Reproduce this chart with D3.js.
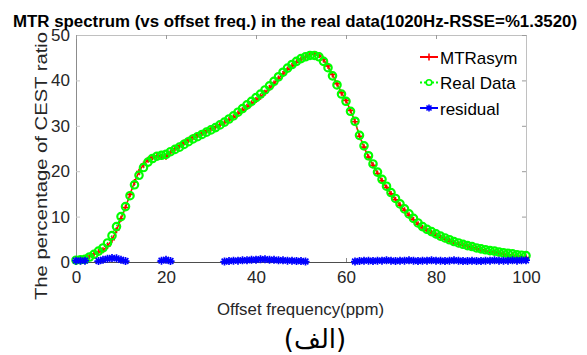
<!DOCTYPE html>
<html lang="en">
  <head>
    <meta charset="UTF-8">
    <title>MTR spectrum</title>
    <script src="https://d3js.org/d3.v7.min.js"></script>
    <style>
      * {
        margin: 0;
        padding: 0;
      }
      body {
        background: #fff;
      }
      body > svg {
        display: block;
      }
      text {
        font-family: "Liberation Sans", Arial, sans-serif;
      }
    </style>
  </head>
  <body>
    <script>
      // offset frequency (ppm)
      var offsets = [
        0, 1, 2, 3, 4, 5, 6, 7, 8, 9, 10, 11, 12, 13, 14, 15, 16, 17, 18, 19,
        20, 21, 22, 23, 24, 25, 26, 27, 28, 29, 30, 31, 32, 33, 34, 35, 36, 37, 38, 39,
        40, 41, 42, 43, 44, 45, 46, 47, 48, 49, 50, 51, 52, 53, 54, 55, 56, 57, 58, 59,
        60, 61, 62, 63, 64, 65, 66, 67, 68, 69, 70, 71, 72, 73, 74, 75, 76, 77, 78, 79,
        80, 81, 82, 83, 84, 85, 86, 87, 88, 89, 90, 91, 92, 93, 94, 95, 96, 97, 98, 99, 100
      ];

      var realData = [
        0.4, 0.5, 0.6, 1.1, 1.7, 2.4, 3.1, 4.2, 5.8, 7.8,
        10.0, 12.2, 14.6, 17.0, 19.1, 20.8, 22.0, 22.8, 23.3, 23.5,
        23.7, 24.3, 24.8, 25.3, 25.9, 26.5, 27.1, 27.6, 28.1, 28.6,
        29.1, 29.6, 30.2, 30.8, 31.5, 32.2, 33.0, 33.8, 34.6, 35.4,
        36.2, 37.0, 37.9, 38.8, 39.8, 40.8, 41.8, 42.7, 43.5, 44.2,
        44.8, 45.2, 45.5, 45.5, 45.2, 44.2, 42.8, 41.0, 39.0, 37.0,
        35.4, 33.2, 31.0, 27.9, 25.6, 23.4, 21.6, 19.8, 18.2, 16.7,
        15.3, 14.0, 12.8, 11.7, 10.6, 9.6, 8.6, 7.8, 7.2, 6.7,
        6.2, 5.7, 5.3, 4.9, 4.5, 4.2, 3.9, 3.6, 3.4, 3.1,
        2.9, 2.7, 2.5, 2.4, 2.2, 2.0, 1.9, 1.8, 1.6, 1.5, 1.4
      ];

      var mtrAsym = [
        0.1, 0.2, 0.3, 1.3, 1.8, 2.2, 2.6, 3.5, 4.9, 7.0,
        9.5, 12.0, 14.9, 17.6, 19.9, 21.5, 22.5, 23.1, 23.4, 23.2,
        23.2, 24.1, 25.0, 25.6, 26.3, 26.9, 27.5, 28.0, 28.4, 28.9,
        29.4, 29.8, 30.3, 30.7, 31.3, 31.9, 32.7, 33.4, 34.2, 34.9,
        35.7, 36.4, 37.3, 38.3, 39.3, 40.4, 41.4, 42.4, 43.2, 44.0,
        44.6, 45.1, 45.7, 45.8, 45.6, 44.6, 43.2, 41.3, 39.3, 37.3,
        35.6, 33.4, 30.9, 27.7, 25.3, 23.1, 21.3, 19.5, 17.9, 16.4,
        15.0, 13.7, 12.5, 11.4, 10.3, 9.3, 8.3, 7.5, 6.9, 6.4,
        5.9, 5.4, 5.0, 4.6, 4.2, 3.9, 3.7, 3.4, 3.2, 2.9,
        2.7, 2.4, 2.2, 2.1, 1.9, 1.7, 1.6, 1.5, 1.3, 1.1, 1.0
      ];

      var residual = [
        0.3, 0.3, 0.3, -0.2, -0.1, 0.2, 0.5, 0.7, 0.9, 0.8,
        0.5, 0.2, -0.3, -0.6, -0.8, -0.7, -0.5, -0.3, -0.1, 0.3,
        0.5, 0.2, -0.2, -0.3, -0.4, -0.4, -0.4, -0.4, -0.3, -0.3,
        -0.3, -0.2, -0.1, 0.1, 0.2, 0.3, 0.3, 0.4, 0.4, 0.5,
        0.5, 0.6, 0.6, 0.5, 0.5, 0.4, 0.4, 0.3, 0.3, 0.2,
        0.2, 0.1, -0.2, -0.3, -0.4, -0.4, -0.4, -0.3, -0.3, -0.3,
        -0.2, -0.2, 0.1, 0.2, 0.3, 0.3, 0.2, 0.3, 0.3, 0.4,
        0.3, 0.2, 0.3, 0.3, 0.4, 0.3, 0.2, 0.3, 0.3, 0.4,
        0.3, 0.3, 0.2, 0.3, 0.4, 0.3, 0.2, 0.2, 0.3, 0.2,
        0.2, 0.3, 0.3, 0.4, 0.3, 0.3, 0.3, 0.4, 0.3, 0.4, 0.4
      ];

      var xTicks = [0, 20, 40, 60, 80, 100];
      var yTicks = [0, 10, 20, 30, 40, 50];

      var titleText = "MTR spectrum (vs offset freq.) in the real data(1020Hz-RSSE=%1.3520)";
      var xLabel = "Offset frequency(ppm)";
      var yLabel = "The percentage of CEST ratio";
      var caption = "(الف)";

      var width = 587;
      var height = 355;
      var margin = { left: 76, right: 61, top: 35, bottom: 93 };

      var svg = d3.select("body").append("svg")
        .attr("width", width)
        .attr("height", height);

      var x = d3.scaleLinear().domain([0, 100]).range([margin.left, width - margin.right]);
      var y = d3.scaleLinear().domain([0, 50]).range([height - margin.bottom, margin.top]);

      // line clip: exactly the axes box (markers are shown only for points inside)
      svg.append("clipPath").attr("id", "plot")
        .append("rect")
        .attr("x", x(0)).attr("y", y(50))
        .attr("width", x(100) - x(0))
        .attr("height", y(0) - y(50));

      var plot = svg.append("g").attr("clip-path", "url(#plot)");
      var marks = svg.append("g");

      function pts(values) {
        return offsets.map(function (o, i) { return [o, values[i]]; });
      }
      function inside(d) { return d[1] >= 0 && d[1] <= 50; }

      var line = d3.line()
        .x(function (d) { return x(d[0]); })
        .y(function (d) { return y(d[1]); });

      function plusPath(s) {
        return "M" + (-s) + ",0H" + s + "M0," + (-s) + "V" + s;
      }
      function starPath(s) {
        var d = s * 0.72;
        return plusPath(s) + "M" + (-d) + "," + (-d) + "L" + d + "," + d +
          "M" + (-d) + "," + d + "L" + d + "," + (-d);
      }

      // MTRasym
      plot.append("path")
        .attr("d", line(pts(mtrAsym)))
        .attr("fill", "none").attr("stroke", "#ff0000").attr("stroke-width", 1.5);
      marks.selectAll(".mtr").data(pts(mtrAsym).filter(inside)).enter().append("path")
        .attr("transform", function (d) { return "translate(" + x(d[0]) + "," + y(d[1]) + ")"; })
        .attr("d", plusPath(3))
        .attr("stroke", "#ff0000").attr("stroke-width", 1.6).attr("fill", "none");

      // Real Data
      plot.append("path")
        .attr("d", line(pts(realData)))
        .attr("fill", "none").attr("stroke", "#00ff00").attr("stroke-width", 1.5)
        .attr("stroke-dasharray", "2,2");
      marks.selectAll(".real").data(pts(realData).filter(inside)).enter().append("circle")
        .attr("cx", function (d) { return x(d[0]); })
        .attr("cy", function (d) { return y(d[1]); })
        .attr("r", 3.7)
        .attr("fill", "none").attr("stroke", "#00ff00").attr("stroke-width", 2.2);

      // residual
      plot.append("path")
        .attr("d", line(pts(residual)))
        .attr("fill", "none").attr("stroke", "#0000ff").attr("stroke-width", 1.6);
      marks.selectAll(".res").data(pts(residual).filter(inside)).enter().append("path")
        .attr("transform", function (d) { return "translate(" + x(d[0]) + "," + y(d[1]) + ")"; })
        .attr("d", starPath(4))
        .attr("stroke", "#0000ff").attr("stroke-width", 1.7).attr("fill", "none");

      // axes box, drawn over the data like MATLAB
      var xAxis = svg.append("g")
        .attr("transform", "translate(0," + y(0) + ")")
        .call(d3.axisBottom(x).tickValues(xTicks).tickSizeInner(-4).tickSizeOuter(0).tickPadding(9));
      var yAxis = svg.append("g")
        .attr("transform", "translate(" + x(0) + ",0)")
        .call(d3.axisLeft(y).tickValues(yTicks).tickSizeInner(-4).tickSizeOuter(0).tickPadding(6));
      var xTop = svg.append("g")
        .attr("transform", "translate(0," + y(50) + ")")
        .call(d3.axisTop(x).tickValues(xTicks).tickSizeInner(-4).tickSizeOuter(0).tickFormat(""));
      var yRight = svg.append("g")
        .attr("transform", "translate(" + x(100) + ",0)")
        .call(d3.axisRight(y).tickValues(yTicks).tickSizeInner(-4).tickSizeOuter(0).tickFormat(""));

      [xAxis, yAxis].forEach(function (g) {
        g.selectAll("text")
          .attr("fill", "#262626")
          .style("font-size", "17px")
          .style("font-family", "'Liberation Sans', Arial, sans-serif");
      });
      xAxis.select(".domain").attr("stroke", "#4d4d4d");
      yAxis.select(".domain").attr("stroke", "#8c8c8c");
      xAxis.selectAll(".tick line").attr("stroke", "#8c8c8c");
      yAxis.selectAll(".tick line").attr("stroke", "#c8c8c8");
      [xTop, yRight].forEach(function (g) {
        g.select(".domain").attr("stroke", "#c0c0c0");
        g.selectAll(".tick line").attr("stroke", "#9a9a9a");
      });
      // keep the data markers above the axes box lines
      marks.raise();

      // legend
      var legend = [
        { name: "MTRasym", color: "#ff0000", mark: "plus", dash: null },
        { name: "Real Data", color: "#00ff00", mark: "circle", dash: "2,2" },
        { name: "residual", color: "#0000ff", mark: "star", dash: null }
      ];
      var lg = svg.append("g");
      legend.forEach(function (e, i) {
        var ly = 57 + i * 25.5;
        lg.append("line")
          .attr("x1", 420).attr("x2", 438).attr("y1", ly).attr("y2", ly)
          .attr("stroke", e.color).attr("stroke-width", 2)
          .attr("stroke-dasharray", e.dash);
        if (e.mark === "circle") {
          lg.append("circle").attr("cx", 429).attr("cy", ly).attr("r", 2.8)
            .attr("fill", "#fff").attr("stroke", e.color).attr("stroke-width", 1.6);
        } else {
          lg.append("path")
            .attr("transform", "translate(429," + ly + ")")
            .attr("d", e.mark === "plus" ? plusPath(3.5) : starPath(3.5))
            .attr("stroke", e.color).attr("stroke-width", 1.6).attr("fill", "none");
        }
        lg.append("text")
          .attr("x", 440).attr("y", ly + 6.5)
          .attr("fill", "#000")
          .style("font-size", "17px")
          .text(e.name);
      });

      // labels
      svg.append("text")
        .attr("x", 13).attr("y", 27)
        .attr("textLength", 564).attr("lengthAdjust", "spacingAndGlyphs")
        .style("font-size", "16px").style("font-weight", "bold")
        .attr("fill", "#000")
        .text(titleText);

      svg.append("text")
        .attr("x", 217).attr("y", 315)
        .attr("textLength", 167).attr("lengthAdjust", "spacingAndGlyphs")
        .style("font-size", "17px")
        .attr("fill", "#262626")
        .text(xLabel);

      svg.append("text")
        .attr("transform", "translate(47,300) rotate(-90)")
        .attr("textLength", 268).attr("lengthAdjust", "spacingAndGlyphs")
        .style("font-size", "17px")
        .attr("fill", "#262626")
        .text(yLabel);

      svg.append("text")
        .attr("x", 315).attr("y", 348)
        .attr("text-anchor", "middle")
        .style("font-size", "26px")
        .style("font-family", "'DejaVu Sans', 'Noto Sans', sans-serif")
        .attr("fill", "#000")
        .text(caption);
    </script>
  </body>
</html>
